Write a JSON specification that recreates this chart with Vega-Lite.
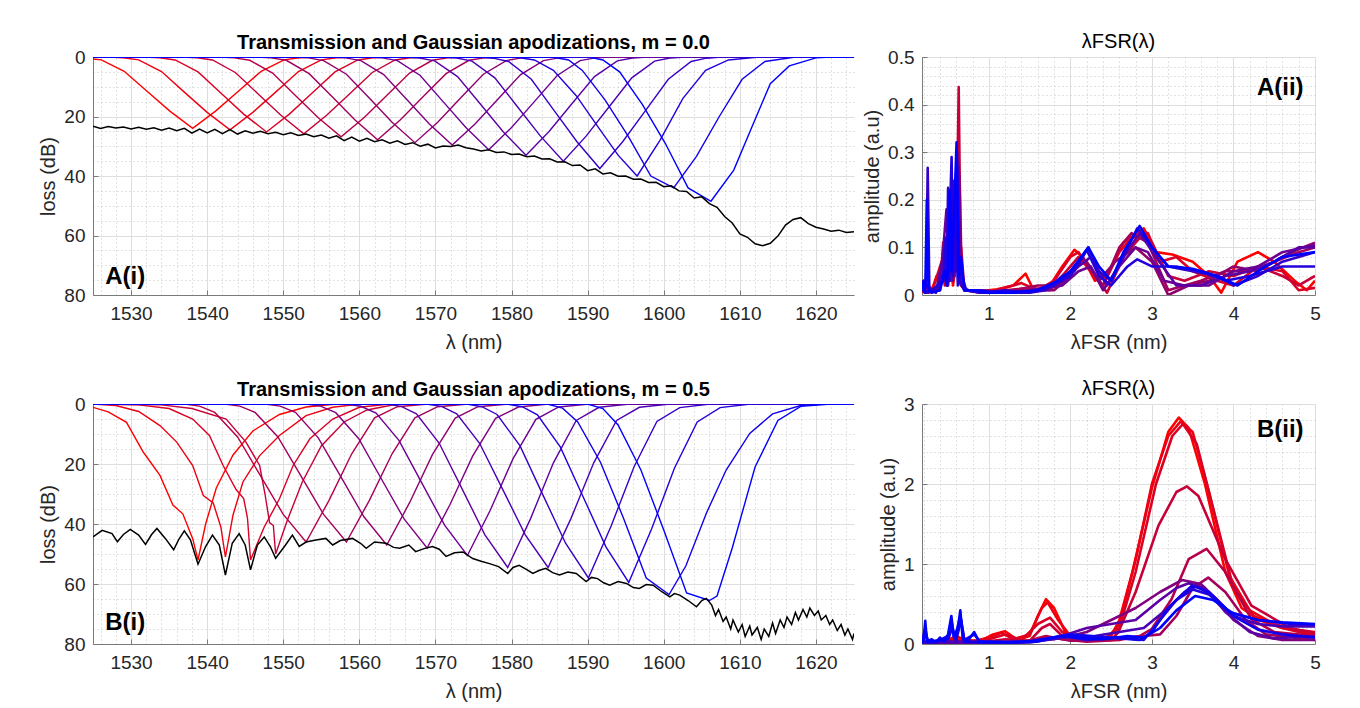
{
"$schema": "https://vega.github.io/schema/vega-lite/v6.json",
"background": "white",
"padding": {"left": 38, "top": 32, "right": 10, "bottom": 5},
"config": {
  "font": "Liberation Sans",
  "view": {"stroke": null},
  "axis": {"labelFont": "Liberation Sans", "labelFontSize": 19, "labelColor": "#262626", "titleFont": "Liberation Sans", "titleFontSize": 20, "titleFontWeight": "normal", "titleColor": "#262626", "domainColor": "#7a7a7a", "tickColor": "#7a7a7a", "labelFlush": false},
  "title": {"font": "Liberation Sans", "fontSize": 20, "fontWeight": "bold", "color": "#000000", "frame": "group"}
},
"datasets": {
"va": [
{"s":0,"x":1522.1,"y":0},{"s":0,"x":1526.1,"y":0.96},{"s":0,"x":1529.1,"y":4.8},{"s":0,"x":1532.1,"y":11.5},{"s":0,"x":1535.1,"y":18.2},{"s":0,"x":1538.1,"y":24},{"s":0,"x":1541.1,"y":18.2},{"s":0,"x":1544.1,"y":11.5},{"s":0,"x":1547.1,"y":4.8},{"s":0,"x":1550.1,"y":0.96},{"s":0,"x":1552.1,"y":0.25},{"s":0,"x":1554.1,"y":0},{"s":0,"x":1625,"y":0},
{"s":1,"x":1525,"y":0},{"s":1,"x":1527,"y":0},{"s":1,"x":1529,"y":0.25},{"s":1,"x":1531,"y":0.98},{"s":1,"x":1534,"y":4.9},{"s":1,"x":1537,"y":11.8},{"s":1,"x":1540,"y":18.6},{"s":1,"x":1543,"y":24.5},{"s":1,"x":1546,"y":18.6},{"s":1,"x":1549,"y":11.8},{"s":1,"x":1552,"y":4.9},{"s":1,"x":1555,"y":0.98},{"s":1,"x":1557,"y":0.25},{"s":1,"x":1559,"y":0},{"s":1,"x":1625,"y":0},
{"s":2,"x":1525,"y":0},{"s":2,"x":1531.8,"y":0},{"s":2,"x":1533.8,"y":0.25},{"s":2,"x":1535.8,"y":1},{"s":2,"x":1538.8,"y":5},{"s":2,"x":1541.8,"y":12.1},{"s":2,"x":1544.8,"y":19.2},{"s":2,"x":1547.8,"y":25.2},{"s":2,"x":1550.8,"y":19.2},{"s":2,"x":1553.8,"y":12.1},{"s":2,"x":1556.8,"y":5},{"s":2,"x":1559.8,"y":1},{"s":2,"x":1561.8,"y":0.25},{"s":2,"x":1563.8,"y":0},{"s":2,"x":1625,"y":0},
{"s":3,"x":1525,"y":0},{"s":3,"x":1536.7,"y":0},{"s":3,"x":1538.7,"y":0.25},{"s":3,"x":1540.7,"y":1},{"s":3,"x":1543.7,"y":5.2},{"s":3,"x":1546.7,"y":12.4},{"s":3,"x":1549.7,"y":19.6},{"s":3,"x":1552.7,"y":25.8},{"s":3,"x":1555.7,"y":19.6},{"s":3,"x":1558.7,"y":12.4},{"s":3,"x":1561.7,"y":5.2},{"s":3,"x":1564.7,"y":1},{"s":3,"x":1566.7,"y":0.25},{"s":3,"x":1568.7,"y":0},{"s":3,"x":1625,"y":0},
{"s":4,"x":1525,"y":0},{"s":4,"x":1541.6,"y":0},{"s":4,"x":1543.6,"y":0.3},{"s":4,"x":1545.6,"y":1.1},{"s":4,"x":1548.6,"y":5.4},{"s":4,"x":1551.6,"y":12.9},{"s":4,"x":1554.6,"y":20.4},{"s":4,"x":1557.6,"y":26.8},{"s":4,"x":1560.6,"y":20.4},{"s":4,"x":1563.6,"y":12.9},{"s":4,"x":1566.6,"y":5.4},{"s":4,"x":1569.6,"y":1.1},{"s":4,"x":1571.6,"y":0.3},{"s":4,"x":1573.6,"y":0},{"s":4,"x":1625,"y":0},
{"s":5,"x":1525,"y":0},{"s":5,"x":1546.4,"y":0},{"s":5,"x":1548.4,"y":0.3},{"s":5,"x":1550.4,"y":1.1},{"s":5,"x":1553.4,"y":5.6},{"s":5,"x":1556.4,"y":13.3},{"s":5,"x":1559.4,"y":21.1},{"s":5,"x":1562.4,"y":27.8},{"s":5,"x":1565.4,"y":21.1},{"s":5,"x":1568.4,"y":13.3},{"s":5,"x":1571.4,"y":5.6},{"s":5,"x":1574.4,"y":1.1},{"s":5,"x":1576.4,"y":0.3},{"s":5,"x":1578.4,"y":0},{"s":5,"x":1625,"y":0},
{"s":6,"x":1525,"y":0},{"s":6,"x":1551.3,"y":0},{"s":6,"x":1553.3,"y":0.3},{"s":6,"x":1555.3,"y":1.2},{"s":6,"x":1558.3,"y":5.8},{"s":6,"x":1561.3,"y":13.8},{"s":6,"x":1564.3,"y":21.9},{"s":6,"x":1567.3,"y":28.8},{"s":6,"x":1570.3,"y":21.9},{"s":6,"x":1573.3,"y":13.8},{"s":6,"x":1576.3,"y":5.8},{"s":6,"x":1579.3,"y":1.2},{"s":6,"x":1581.3,"y":0.3},{"s":6,"x":1583.3,"y":0},{"s":6,"x":1625,"y":0},
{"s":7,"x":1525,"y":0},{"s":7,"x":1556.2,"y":0},{"s":7,"x":1558.2,"y":0.3},{"s":7,"x":1560.2,"y":1.2},{"s":7,"x":1563.2,"y":5.9},{"s":7,"x":1566.2,"y":14.2},{"s":7,"x":1569.2,"y":22.5},{"s":7,"x":1572.2,"y":29.6},{"s":7,"x":1575.2,"y":22.5},{"s":7,"x":1578.2,"y":14.2},{"s":7,"x":1581.2,"y":5.9},{"s":7,"x":1584.2,"y":1.2},{"s":7,"x":1586.2,"y":0.3},{"s":7,"x":1588.2,"y":0},{"s":7,"x":1625,"y":0},
{"s":8,"x":1525,"y":0},{"s":8,"x":1561,"y":0},{"s":8,"x":1563,"y":0.3},{"s":8,"x":1565,"y":1.2},{"s":8,"x":1568,"y":6.2},{"s":8,"x":1571,"y":15},{"s":8,"x":1574,"y":23.7},{"s":8,"x":1577,"y":31.2},{"s":8,"x":1580,"y":23.7},{"s":8,"x":1583,"y":15},{"s":8,"x":1586,"y":6.2},{"s":8,"x":1589,"y":1.2},{"s":8,"x":1591,"y":0.3},{"s":8,"x":1593,"y":0},{"s":8,"x":1625,"y":0},
{"s":9,"x":1525,"y":0},{"s":9,"x":1565.9,"y":0},{"s":9,"x":1567.9,"y":0.35},{"s":9,"x":1569.9,"y":1.3},{"s":9,"x":1572.9,"y":6.6},{"s":9,"x":1575.9,"y":15.8},{"s":9,"x":1578.9,"y":25.1},{"s":9,"x":1581.9,"y":33},{"s":9,"x":1584.9,"y":25.1},{"s":9,"x":1587.9,"y":15.8},{"s":9,"x":1590.9,"y":6.6},{"s":9,"x":1593.9,"y":1.3},{"s":9,"x":1595.9,"y":0.35},{"s":9,"x":1597.9,"y":0},{"s":9,"x":1625,"y":0},
{"s":10,"x":1525,"y":0},{"s":10,"x":1570.8,"y":0},{"s":10,"x":1572.8,"y":0.35},{"s":10,"x":1574.8,"y":1.4},{"s":10,"x":1577.8,"y":7},{"s":10,"x":1580.8,"y":16.8},{"s":10,"x":1583.8,"y":26.6},{"s":10,"x":1586.8,"y":35},{"s":10,"x":1589.8,"y":26.6},{"s":10,"x":1592.8,"y":16.8},{"s":10,"x":1595.8,"y":7},{"s":10,"x":1598.8,"y":1.4},{"s":10,"x":1600.8,"y":0.35},{"s":10,"x":1602.8,"y":0},{"s":10,"x":1625,"y":0},
{"s":11,"x":1525,"y":0},{"s":11,"x":1575.6,"y":0},{"s":11,"x":1577.6,"y":0.4},{"s":11,"x":1579.6,"y":1.5},{"s":11,"x":1582.6,"y":7.5},{"s":11,"x":1585.6,"y":18},{"s":11,"x":1588.6,"y":28.5},{"s":11,"x":1591.6,"y":37.5},{"s":11,"x":1594.6,"y":28.5},{"s":11,"x":1597.6,"y":18},{"s":11,"x":1600.6,"y":7.5},{"s":11,"x":1603.6,"y":1.5},{"s":11,"x":1605.6,"y":0.4},{"s":11,"x":1607.6,"y":0},{"s":11,"x":1625,"y":0},
{"s":12,"x":1525,"y":0},{"s":12,"x":1580.5,"y":0},{"s":12,"x":1583,"y":1},{"s":12,"x":1585.5,"y":4.5},{"s":12,"x":1588.5,"y":13},{"s":12,"x":1591.5,"y":24},{"s":12,"x":1594,"y":33},{"s":12,"x":1596.5,"y":40},{"s":12,"x":1599.5,"y":28},{"s":12,"x":1602.5,"y":14},{"s":12,"x":1605.5,"y":4.5},{"s":12,"x":1608.5,"y":1},{"s":12,"x":1612.5,"y":0},{"s":12,"x":1625,"y":0},
{"s":13,"x":1525,"y":0},{"s":13,"x":1585.3,"y":0},{"s":13,"x":1587.5,"y":1},{"s":13,"x":1589.3,"y":4.5},{"s":13,"x":1592.3,"y":14.5},{"s":13,"x":1595.3,"y":26.5},{"s":13,"x":1598.3,"y":40},{"s":13,"x":1601.3,"y":44},{"s":13,"x":1604.3,"y":33.4},{"s":13,"x":1607.3,"y":20},{"s":13,"x":1610.3,"y":7.5},{"s":13,"x":1613.3,"y":1.5},{"s":13,"x":1617.3,"y":0},{"s":13,"x":1625,"y":0},
{"s":14,"x":1525,"y":0},{"s":14,"x":1590.2,"y":0},{"s":14,"x":1592,"y":1},{"s":14,"x":1594.2,"y":5},{"s":14,"x":1597.2,"y":16},{"s":14,"x":1600.2,"y":29},{"s":14,"x":1603.2,"y":44},{"s":14,"x":1606.2,"y":48.5},{"s":14,"x":1609.2,"y":38},{"s":14,"x":1611.5,"y":24},{"s":14,"x":1614,"y":9},{"s":14,"x":1616.5,"y":3},{"s":14,"x":1620,"y":0.3},{"s":14,"x":1622,"y":0},{"s":14,"x":1625,"y":0}
],
"ka": [
{"x":1525,"y":23.3},{"x":1526,"y":24.0},{"x":1527,"y":23.4},{"x":1528,"y":23.9},{"x":1529,"y":23.5},{"x":1530,"y":24.2},{"x":1531,"y":23.6},{"x":1532,"y":24.3},{"x":1533,"y":23.8},{"x":1534,"y":24.6},{"x":1535,"y":23.9},{"x":1536,"y":24.8},{"x":1537,"y":24.0},{"x":1538,"y":25.6},{"x":1539,"y":24.2},{"x":1540,"y":25.5},{"x":1541,"y":24.3},{"x":1542,"y":25.8},{"x":1543,"y":24.4},{"x":1544,"y":25.9},{"x":1545,"y":24.8},{"x":1546,"y":25.6},{"x":1547,"y":25.0},{"x":1548,"y":25.8},{"x":1549,"y":25.3},{"x":1550,"y":26.1},{"x":1551,"y":25.5},{"x":1552,"y":26.4},{"x":1553,"y":25.9},{"x":1554,"y":26.8},{"x":1555,"y":26.2},{"x":1556,"y":27.3},{"x":1557,"y":26.5},{"x":1558,"y":28.1},{"x":1559,"y":26.9},{"x":1560,"y":28.3},{"x":1561,"y":27.3},{"x":1562,"y":28.5},{"x":1563,"y":27.8},{"x":1564,"y":29.0},{"x":1565,"y":28.2},{"x":1566,"y":29.4},{"x":1567,"y":28.8},{"x":1568,"y":30.0},{"x":1569,"y":29.3},{"x":1570,"y":30.6},{"x":1571,"y":29.9},{"x":1572,"y":30.1},{"x":1573,"y":29.6},{"x":1574,"y":30.5},{"x":1575,"y":30.9},{"x":1576,"y":31.6},{"x":1577,"y":31.2},{"x":1578,"y":32.1},{"x":1579,"y":31.9},{"x":1580,"y":32.8},{"x":1581,"y":32.6},{"x":1582,"y":33.5},{"x":1583,"y":33.3},{"x":1584,"y":34.3},{"x":1585,"y":34.2},{"x":1586,"y":35.3},{"x":1587,"y":35.2},{"x":1588,"y":36.5},{"x":1589,"y":36.3},{"x":1590,"y":38.2},{"x":1591,"y":37.6},{"x":1592,"y":39.3},{"x":1593,"y":38.9},{"x":1594,"y":40.1},{"x":1595,"y":40.0},{"x":1596,"y":41.1},{"x":1597,"y":41.0},{"x":1598,"y":42.2},{"x":1599,"y":42.1},{"x":1600,"y":43.6},{"x":1601,"y":43.3},{"x":1602,"y":45.0},{"x":1603,"y":45.2},{"x":1604,"y":47.4},{"x":1605,"y":47.0},{"x":1606,"y":49.3},{"x":1607,"y":50.5},{"x":1608,"y":53.6},{"x":1609,"y":55.8},{"x":1610,"y":59.5},{"x":1611,"y":60.6},{"x":1612,"y":62.8},{"x":1613,"y":63.4},{"x":1614,"y":62.6},{"x":1615,"y":60.2},{"x":1616,"y":56.5},{"x":1617,"y":54.6},{"x":1618,"y":54.0},{"x":1619,"y":56.0},{"x":1620,"y":57.2},{"x":1621,"y":57.8},{"x":1622,"y":58.6},{"x":1623,"y":58.2},{"x":1624,"y":59.0},{"x":1625,"y":58.7}
],
"vb": [
{"s":0,"x":1525,"y":1.1},{"s":0,"x":1527,"y":2.6},{"s":0,"x":1529.4,"y":6.1},{"s":0,"x":1531.6,"y":16},{"s":0,"x":1533.8,"y":23.8},{"s":0,"x":1535.5,"y":33.7},{"s":0,"x":1536.8,"y":36.6},{"s":0,"x":1538.1,"y":44.9},{"s":0,"x":1538.8,"y":52},{"s":0,"x":1539.8,"y":40},{"s":0,"x":1541.2,"y":28},{"s":0,"x":1543.4,"y":17},{"s":0,"x":1546,"y":9},{"s":0,"x":1549.5,"y":3.5},{"s":0,"x":1553,"y":1},{"s":0,"x":1557,"y":0},{"s":0,"x":1625,"y":0},
{"s":1,"x":1525,"y":0},{"s":1,"x":1528,"y":0.5},{"s":1,"x":1531,"y":2.5},{"s":1,"x":1533.8,"y":7.2},{"s":1,"x":1536,"y":12.7},{"s":1,"x":1538.1,"y":20.5},{"s":1,"x":1539.5,"y":30.5},{"s":1,"x":1540.8,"y":33},{"s":1,"x":1541.8,"y":41},{"s":1,"x":1542.4,"y":51},{"s":1,"x":1543.4,"y":37},{"s":1,"x":1544.7,"y":26},{"s":1,"x":1546.9,"y":17.2},{"s":1,"x":1549.5,"y":10.5},{"s":1,"x":1553,"y":3.9},{"s":1,"x":1556.5,"y":1.1},{"s":1,"x":1560,"y":0},{"s":1,"x":1625,"y":0},
{"s":2,"x":1525,"y":0},{"s":2,"x":1531,"y":0.3},{"s":2,"x":1535,"y":1.5},{"s":2,"x":1538.1,"y":5},{"s":2,"x":1540.3,"y":10.5},{"s":2,"x":1542.1,"y":20.5},{"s":2,"x":1543.8,"y":28.5},{"s":2,"x":1544.8,"y":31.5},{"s":2,"x":1545.3,"y":38},{"s":2,"x":1545.7,"y":52},{"s":2,"x":1547.5,"y":41},{"s":2,"x":1549.5,"y":31.6},{"s":2,"x":1551.3,"y":20.5},{"s":2,"x":1553.5,"y":11.6},{"s":2,"x":1556.5,"y":5},{"s":2,"x":1560,"y":1.1},{"s":2,"x":1564,"y":0},{"s":2,"x":1625,"y":0},
{"s":3,"x":1525,"y":0},{"s":3,"x":1534,"y":0.3},{"s":3,"x":1538,"y":1.5},{"s":3,"x":1542.5,"y":5},{"s":3,"x":1545.1,"y":12.7},{"s":3,"x":1546.9,"y":20.5},{"s":3,"x":1547.6,"y":30},{"s":3,"x":1548.2,"y":39.5},{"s":3,"x":1548.7,"y":40.5},{"s":3,"x":1549.0,"y":50},{"s":3,"x":1550.5,"y":39},{"s":3,"x":1552.5,"y":26},{"s":3,"x":1555,"y":14},{"s":3,"x":1558,"y":6},{"s":3,"x":1561,"y":2},{"s":3,"x":1565,"y":0},{"s":3,"x":1625,"y":0},
{"s":4,"x":1525,"y":0},{"s":4,"x":1537,"y":0},{"s":4,"x":1539,"y":0.7},{"s":4,"x":1541,"y":2.8},{"s":4,"x":1544,"y":11},{"s":4,"x":1547,"y":23.9},{"s":4,"x":1550,"y":36.8},{"s":4,"x":1553,"y":46},{"s":4,"x":1556,"y":32.2},{"s":4,"x":1559,"y":16.6},{"s":4,"x":1562,"y":4.6},{"s":4,"x":1565,"y":0.9},{"s":4,"x":1569,"y":0},{"s":4,"x":1625,"y":0},
{"s":5,"x":1525,"y":0},{"s":5,"x":1542.3,"y":0},{"s":5,"x":1544.3,"y":0.7},{"s":5,"x":1546.3,"y":2.8},{"s":5,"x":1549.3,"y":11},{"s":5,"x":1552.3,"y":23.9},{"s":5,"x":1555.3,"y":36.8},{"s":5,"x":1558.3,"y":46},{"s":5,"x":1561.3,"y":32.2},{"s":5,"x":1564.3,"y":16.6},{"s":5,"x":1567.3,"y":4.6},{"s":5,"x":1570.3,"y":0.9},{"s":5,"x":1574.3,"y":0},{"s":5,"x":1625,"y":0},
{"s":6,"x":1525,"y":0},{"s":6,"x":1547.6,"y":0},{"s":6,"x":1549.6,"y":0.7},{"s":6,"x":1551.6,"y":2.8},{"s":6,"x":1554.6,"y":11.3},{"s":6,"x":1557.6,"y":24.4},{"s":6,"x":1560.6,"y":37.6},{"s":6,"x":1563.6,"y":47},{"s":6,"x":1566.6,"y":32.9},{"s":6,"x":1569.6,"y":16.9},{"s":6,"x":1572.6,"y":4.7},{"s":6,"x":1575.6,"y":0.9},{"s":6,"x":1579.6,"y":0},{"s":6,"x":1625,"y":0},
{"s":7,"x":1525,"y":0},{"s":7,"x":1552.9,"y":0},{"s":7,"x":1554.9,"y":0.7},{"s":7,"x":1556.9,"y":2.9},{"s":7,"x":1559.9,"y":11.5},{"s":7,"x":1562.9,"y":25},{"s":7,"x":1565.9,"y":38.4},{"s":7,"x":1568.9,"y":48},{"s":7,"x":1571.9,"y":33.6},{"s":7,"x":1574.9,"y":17.3},{"s":7,"x":1577.9,"y":4.8},{"s":7,"x":1580.9,"y":1},{"s":7,"x":1584.9,"y":0},{"s":7,"x":1625,"y":0},
{"s":8,"x":1525,"y":0},{"s":8,"x":1558.2,"y":0},{"s":8,"x":1560.2,"y":0.75},{"s":8,"x":1562.2,"y":3},{"s":8,"x":1565.2,"y":12.1},{"s":8,"x":1568.2,"y":26.3},{"s":8,"x":1571.2,"y":40.4},{"s":8,"x":1574.2,"y":50.5},{"s":8,"x":1577.2,"y":35.4},{"s":8,"x":1580.2,"y":18.2},{"s":8,"x":1583.2,"y":5.1},{"s":8,"x":1586.2,"y":1},{"s":8,"x":1590.2,"y":0},{"s":8,"x":1625,"y":0},
{"s":9,"x":1525,"y":0},{"s":9,"x":1563.5,"y":0},{"s":9,"x":1565.5,"y":0.8},{"s":9,"x":1567.5,"y":3.3},{"s":9,"x":1570.5,"y":13.1},{"s":9,"x":1573.5,"y":28.3},{"s":9,"x":1576.5,"y":43.6},{"s":9,"x":1579.5,"y":54.5},{"s":9,"x":1582.5,"y":38.2},{"s":9,"x":1585.5,"y":19.6},{"s":9,"x":1588.5,"y":5.5},{"s":9,"x":1591.5,"y":1.1},{"s":9,"x":1595.5,"y":0},{"s":9,"x":1625,"y":0},
{"s":10,"x":1525,"y":0},{"s":10,"x":1568.8,"y":0},{"s":10,"x":1570.8,"y":0.8},{"s":10,"x":1572.8,"y":3.3},{"s":10,"x":1575.8,"y":13.1},{"s":10,"x":1578.8,"y":28.3},{"s":10,"x":1581.8,"y":43.6},{"s":10,"x":1584.8,"y":54.5},{"s":10,"x":1587.8,"y":38.2},{"s":10,"x":1590.8,"y":19.6},{"s":10,"x":1593.8,"y":5.5},{"s":10,"x":1596.8,"y":1.1},{"s":10,"x":1600.8,"y":0},{"s":10,"x":1625,"y":0},
{"s":11,"x":1525,"y":0},{"s":11,"x":1574.1,"y":0},{"s":11,"x":1576.1,"y":0.9},{"s":11,"x":1578.1,"y":3.5},{"s":11,"x":1581.1,"y":13.9},{"s":11,"x":1584.1,"y":30.2},{"s":11,"x":1587.1,"y":46.4},{"s":11,"x":1590.1,"y":58},{"s":11,"x":1593.1,"y":40.6},{"s":11,"x":1596.1,"y":20.9},{"s":11,"x":1599.1,"y":5.8},{"s":11,"x":1602.1,"y":1.2},{"s":11,"x":1606.1,"y":0},{"s":11,"x":1625,"y":0},
{"s":12,"x":1525,"y":0},{"s":12,"x":1579.4,"y":0},{"s":12,"x":1581.4,"y":0.9},{"s":12,"x":1583.4,"y":3.6},{"s":12,"x":1586.4,"y":14.3},{"s":12,"x":1589.4,"y":30.9},{"s":12,"x":1592.4,"y":47.6},{"s":12,"x":1595.4,"y":59.5},{"s":12,"x":1598.4,"y":41.7},{"s":12,"x":1601.4,"y":21.4},{"s":12,"x":1604.4,"y":6},{"s":12,"x":1607.4,"y":1.2},{"s":12,"x":1611.4,"y":0},{"s":12,"x":1625,"y":0},
{"s":13,"x":1525,"y":0},{"s":13,"x":1584.7,"y":0},{"s":13,"x":1586.7,"y":1.4},{"s":13,"x":1588.7,"y":6},{"s":13,"x":1591.7,"y":19.5},{"s":13,"x":1594.7,"y":38},{"s":13,"x":1597.7,"y":58},{"s":13,"x":1600.7,"y":63.5},{"s":13,"x":1602.9,"y":54},{"s":13,"x":1605.6,"y":36.4},{"s":13,"x":1608.2,"y":22},{"s":13,"x":1611.3,"y":9.8},{"s":13,"x":1614.3,"y":3.3},{"s":13,"x":1618,"y":0.5},{"s":13,"x":1621,"y":0},{"s":13,"x":1625,"y":0},
{"s":14,"x":1525,"y":0},{"s":14,"x":1590,"y":0},{"s":14,"x":1592,"y":1.5},{"s":14,"x":1594,"y":7},{"s":14,"x":1597,"y":22},{"s":14,"x":1600,"y":42},{"s":14,"x":1603,"y":63},{"s":14,"x":1606,"y":65.5},{"s":14,"x":1607,"y":64},{"s":14,"x":1609,"y":48},{"s":14,"x":1612,"y":21},{"s":14,"x":1615,"y":5.5},{"s":14,"x":1618,"y":0.8},{"s":14,"x":1622,"y":0},{"s":14,"x":1625,"y":0}
],
"kb": [
{"x":1525,"y":44.3},{"x":1526.2,"y":42.1},{"x":1527.5,"y":43.2},{"x":1528.2,"y":45.9},{"x":1529,"y":43.5},{"x":1529.9,"y":41.8},{"x":1531,"y":43.7},{"x":1531.9,"y":46.8},{"x":1532.7,"y":43.5},{"x":1533.4,"y":41.5},{"x":1534.5,"y":44.8},{"x":1535.6,"y":48.6},{"x":1536.3,"y":45},{"x":1537,"y":42.3},{"x":1537.8,"y":45.3},{"x":1538.8,"y":53.4},{"x":1539.8,"y":47.5},{"x":1540.7,"y":43.7},{"x":1541.6,"y":47},{"x":1542.4,"y":57},{"x":1543.3,"y":46.4},{"x":1544.2,"y":43.2},{"x":1545,"y":47},{"x":1545.7,"y":55.3},{"x":1546.6,"y":47},{"x":1547.5,"y":44.3},{"x":1548.3,"y":47.5},{"x":1549,"y":51.4},{"x":1550.3,"y":47},{"x":1551.2,"y":43.7},{"x":1552.1,"y":47.5},{"x":1553,"y":46},{"x":1554.3,"y":45.3},{"x":1555.6,"y":44.8},{"x":1556.5,"y":47},{"x":1557.5,"y":45.5},{"x":1559.1,"y":44.8},{"x":1560.2,"y":46.5},{"x":1560.9,"y":48.1},{"x":1562,"y":46},{"x":1563.5,"y":46.4},{"x":1564.5,"y":47.8},{"x":1565.3,"y":48.1},{"x":1566.5,"y":47},{"x":1567.4,"y":49.2},{"x":1568.5,"y":48.2},{"x":1569.6,"y":47.5},{"x":1570.5,"y":48.4},{"x":1571.4,"y":50.8},{"x":1572.5,"y":49.6},{"x":1573.6,"y":49.3},{"x":1574.9,"y":51.5},{"x":1576,"y":52.4},{"x":1577.1,"y":53.2},{"x":1578.3,"y":54.2},{"x":1579.5,"y":56.5},{"x":1580.2,"y":54.5},{"x":1581,"y":53.8},{"x":1582,"y":55.2},{"x":1582.8,"y":56.5},{"x":1583.6,"y":55.5},{"x":1584.5,"y":54.8},{"x":1585.4,"y":56.2},{"x":1586.3,"y":57},{"x":1587.4,"y":56},{"x":1588.5,"y":56.5},{"x":1589.8,"y":59.2},{"x":1590.5,"y":57.8},{"x":1591.3,"y":58.2},{"x":1592.1,"y":59.6},{"x":1592.9,"y":60.4},{"x":1594,"y":59.2},{"x":1595.1,"y":59.8},{"x":1596,"y":61.2},{"x":1596.8,"y":61.5},{"x":1597.7,"y":60.2},{"x":1598.6,"y":60.4},{"x":1599.7,"y":62.5},{"x":1600.8,"y":64.3},{"x":1601.4,"y":63.2},{"x":1602.1,"y":63.7},{"x":1603.2,"y":65.5},{"x":1604.3,"y":67.6},{"x":1605,"y":65.5},{"x":1605.6,"y":64.8},
{"x":1606.3,"y":67},{"x":1606.8,"y":70.5},{"x":1607.2,"y":68.5},{"x":1607.8,"y":72.5},{"x":1608.2,"y":71},{"x":1608.8,"y":75},{"x":1609.1,"y":72},{"x":1609.8,"y":76},{"x":1610.3,"y":73.5},{"x":1610.7,"y":77.5},{"x":1611.3,"y":74},{"x":1611.6,"y":77},{"x":1612.3,"y":74.5},{"x":1612.8,"y":78.5},{"x":1613.2,"y":75},{"x":1613.8,"y":77.5},{"x":1614.3,"y":73},{"x":1614.7,"y":76.5},{"x":1615.3,"y":72},{"x":1615.8,"y":74.5},{"x":1616.2,"y":71},{"x":1616.8,"y":73.5},{"x":1617.3,"y":69.5},{"x":1617.7,"y":72},{"x":1618.3,"y":68.5},{"x":1618.8,"y":71},{"x":1619.2,"y":68},{"x":1619.8,"y":70.5},{"x":1620.3,"y":69},{"x":1620.7,"y":72},{"x":1621.3,"y":70.5},{"x":1621.8,"y":73.5},{"x":1622.2,"y":72},{"x":1622.8,"y":75.5},{"x":1623.3,"y":73.5},{"x":1623.8,"y":77},{"x":1624.2,"y":75},{"x":1624.8,"y":78.5},{"x":1625,"y":76.5}
],
"ra": [
{"s":0,"x":0.18,"y":0.01},{"s":0,"x":0.2,"y":0.03},{"s":0,"x":0.23,"y":0.005},{"s":0,"x":0.3,"y":0.01},{"s":0,"x":0.36,"y":0.04},{"s":0,"x":0.4,"y":0.01},{"s":0,"x":0.44,"y":0.11},{"s":0,"x":0.47,"y":0.03},{"s":0,"x":0.52,"y":0.09},{"s":0,"x":0.56,"y":0.02},{"s":0,"x":0.6,"y":0.07},{"s":0,"x":0.66,"y":0.02},{"s":0,"x":0.72,"y":0.01},{"s":0,"x":0.9,"y":0.008},{"s":0,"x":1.1,"y":0.012},{"s":0,"x":1.3,"y":0.02},{"s":0,"x":1.45,"y":0.045},{"s":0,"x":1.55,"y":0.01},{"s":0,"x":1.75,"y":0.02},{"s":0,"x":1.9,"y":0.06},{"s":0,"x":2.05,"y":0.095},{"s":0,"x":2.15,"y":0.08},{"s":0,"x":2.3,"y":0.03},{"s":0,"x":2.45,"y":0.04},{"s":0,"x":2.65,"y":0.11},{"s":0,"x":2.9,"y":0.14},{"s":0,"x":3.05,"y":0.09},{"s":0,"x":3.25,"y":0.085},{"s":0,"x":3.5,"y":0.07},{"s":0,"x":3.7,"y":0.04},{"s":0,"x":3.85,"y":0.005},{"s":0,"x":4.05,"y":0.07},{"s":0,"x":4.3,"y":0.09},{"s":0,"x":4.5,"y":0.07},{"s":0,"x":4.75,"y":0.03},{"s":0,"x":4.9,"y":0.01},{"s":0,"x":5,"y":0.03},
{"s":2,"x":0.18,"y":0.005},{"s":2,"x":0.25,"y":0.02},{"s":2,"x":0.3,"y":0.005},{"s":2,"x":0.42,"y":0.07},{"s":2,"x":0.46,"y":0.02},{"s":2,"x":0.5,"y":0.12},{"s":2,"x":0.54,"y":0.03},{"s":2,"x":0.58,"y":0.15},{"s":2,"x":0.62,"y":0.05},{"s":2,"x":0.66,"y":0.1},{"s":2,"x":0.7,"y":0.01},{"s":2,"x":0.8,"y":0.01},{"s":2,"x":1.0,"y":0.005},{"s":2,"x":1.2,"y":0.015},{"s":2,"x":1.4,"y":0.025},{"s":2,"x":1.6,"y":0.01},{"s":2,"x":1.8,"y":0.03},{"s":2,"x":2.0,"y":0.08},{"s":2,"x":2.1,"y":0.09},{"s":2,"x":2.25,"y":0.05},{"s":2,"x":2.4,"y":0.02},{"s":2,"x":2.6,"y":0.09},{"s":2,"x":2.75,"y":0.12},{"s":2,"x":2.95,"y":0.13},{"s":2,"x":3.1,"y":0.07},{"s":2,"x":3.3,"y":0.08},{"s":2,"x":3.5,"y":0.05},{"s":2,"x":3.8,"y":0.03},{"s":2,"x":4.0,"y":0.02},{"s":2,"x":4.3,"y":0.06},{"s":2,"x":4.6,"y":0.05},{"s":2,"x":4.8,"y":0.01},{"s":2,"x":5,"y":0.015},
{"s":3,"x":0.18,"y":0.01},{"s":3,"x":0.24,"y":0.005},{"s":3,"x":0.35,"y":0.01},{"s":3,"x":0.45,"y":0.05},{"s":3,"x":0.5,"y":0.02},{"s":3,"x":0.55,"y":0.1},{"s":3,"x":0.58,"y":0.04},{"s":3,"x":0.61,"y":0.2},{"s":3,"x":0.63,"y":0.437},{"s":3,"x":0.655,"y":0.05},{"s":3,"x":0.7,"y":0.01},{"s":3,"x":0.9,"y":0.005},{"s":3,"x":1.2,"y":0.01},{"s":3,"x":1.5,"y":0.015},{"s":3,"x":1.75,"y":0.01},{"s":3,"x":1.95,"y":0.05},{"s":3,"x":2.1,"y":0.08},{"s":3,"x":2.3,"y":0.04},{"s":3,"x":2.45,"y":0.005},{"s":3,"x":2.65,"y":0.08},{"s":3,"x":2.85,"y":0.12},{"s":3,"x":3.0,"y":0.11},{"s":3,"x":3.2,"y":0.04},{"s":3,"x":3.4,"y":0.03},{"s":3,"x":3.7,"y":0.05},{"s":3,"x":4.0,"y":0.04},{"s":3,"x":4.3,"y":0.06},{"s":3,"x":4.6,"y":0.04},{"s":3,"x":4.8,"y":0.02},{"s":3,"x":5,"y":0.04},
{"s":5,"x":0.18,"y":0.005},{"s":5,"x":0.22,"y":0.02},{"s":5,"x":0.3,"y":0.005},{"s":5,"x":0.45,"y":0.03},{"s":5,"x":0.5,"y":0.15},{"s":5,"x":0.53,"y":0.03},{"s":5,"x":0.57,"y":0.22},{"s":5,"x":0.6,"y":0.05},{"s":5,"x":0.64,"y":0.25},{"s":5,"x":0.67,"y":0.02},{"s":5,"x":0.75,"y":0.01},{"s":5,"x":1.0,"y":0.005},{"s":5,"x":1.3,"y":0.01},{"s":5,"x":1.6,"y":0.02},{"s":5,"x":1.85,"y":0.02},{"s":5,"x":2.05,"y":0.06},{"s":5,"x":2.2,"y":0.07},{"s":5,"x":2.4,"y":0.02},{"s":5,"x":2.6,"y":0.1},{"s":5,"x":2.75,"y":0.13},{"s":5,"x":2.95,"y":0.11},{"s":5,"x":3.2,"y":0.01},{"s":5,"x":3.4,"y":0.02},{"s":5,"x":3.6,"y":0.03},{"s":5,"x":3.9,"y":0.05},{"s":5,"x":4.2,"y":0.05},{"s":5,"x":4.5,"y":0.07},{"s":5,"x":4.8,"y":0.09},{"s":5,"x":5,"y":0.1},
{"s":6,"x":0.18,"y":0.01},{"s":6,"x":0.26,"y":0.005},{"s":6,"x":0.4,"y":0.02},{"s":6,"x":0.47,"y":0.12},{"s":6,"x":0.5,"y":0.03},{"s":6,"x":0.55,"y":0.2},{"s":6,"x":0.58,"y":0.04},{"s":6,"x":0.62,"y":0.3},{"s":6,"x":0.65,"y":0.04},{"s":6,"x":0.7,"y":0.01},{"s":6,"x":0.9,"y":0.01},{"s":6,"x":1.2,"y":0.005},{"s":6,"x":1.5,"y":0.01},{"s":6,"x":1.8,"y":0.01},{"s":6,"x":2.0,"y":0.04},{"s":6,"x":2.15,"y":0.08},{"s":6,"x":2.35,"y":0.03},{"s":6,"x":2.55,"y":0.07},{"s":6,"x":2.8,"y":0.1},{"s":6,"x":3.0,"y":0.07},{"s":6,"x":3.2,"y":0.0},{"s":6,"x":3.45,"y":0.02},{"s":6,"x":3.7,"y":0.03},{"s":6,"x":4.0,"y":0.06},{"s":6,"x":4.3,"y":0.05},{"s":6,"x":4.6,"y":0.08},{"s":6,"x":4.85,"y":0.1},{"s":6,"x":5,"y":0.11},
{"s":8,"x":0.18,"y":0.02},{"s":8,"x":0.23,"y":0.005},{"s":8,"x":0.4,"y":0.01},{"s":8,"x":0.48,"y":0.18},{"s":8,"x":0.51,"y":0.04},{"s":8,"x":0.56,"y":0.24},{"s":8,"x":0.59,"y":0.05},{"s":8,"x":0.63,"y":0.27},{"s":8,"x":0.66,"y":0.03},{"s":8,"x":0.72,"y":0.01},{"s":8,"x":0.9,"y":0.005},{"s":8,"x":1.3,"y":0.005},{"s":8,"x":1.6,"y":0.01},{"s":8,"x":1.9,"y":0.02},{"s":8,"x":2.1,"y":0.05},{"s":8,"x":2.25,"y":0.06},{"s":8,"x":2.4,"y":0.01},{"s":8,"x":2.6,"y":0.06},{"s":8,"x":2.8,"y":0.1},{"s":8,"x":2.95,"y":0.09},{"s":8,"x":3.15,"y":0.03},{"s":8,"x":3.4,"y":0.02},{"s":8,"x":3.7,"y":0.02},{"s":8,"x":4.0,"y":0.05},{"s":8,"x":4.3,"y":0.06},{"s":8,"x":4.6,"y":0.09},{"s":8,"x":5,"y":0.105},
{"s":9,"x":0.18,"y":0.01},{"s":9,"x":0.25,"y":0.02},{"s":9,"x":0.35,"y":0.005},{"s":9,"x":0.46,"y":0.1},{"s":9,"x":0.49,"y":0.02},{"s":9,"x":0.53,"y":0.2},{"s":9,"x":0.56,"y":0.03},{"s":9,"x":0.6,"y":0.26},{"s":9,"x":0.63,"y":0.03},{"s":9,"x":0.7,"y":0.01},{"s":9,"x":1.0,"y":0.005},{"s":9,"x":1.4,"y":0.008},{"s":9,"x":1.7,"y":0.015},{"s":9,"x":1.9,"y":0.03},{"s":9,"x":2.1,"y":0.06},{"s":9,"x":2.25,"y":0.08},{"s":9,"x":2.45,"y":0.02},{"s":9,"x":2.65,"y":0.08},{"s":9,"x":2.85,"y":0.13},{"s":9,"x":3.05,"y":0.08},{"s":9,"x":3.3,"y":0.02},{"s":9,"x":3.6,"y":0.02},{"s":9,"x":3.9,"y":0.04},{"s":9,"x":4.2,"y":0.05},{"s":9,"x":4.5,"y":0.07},{"s":9,"x":4.8,"y":0.1},{"s":9,"x":5,"y":0.1},
{"s":11,"x":0.18,"y":0.01},{"s":11,"x":0.23,"y":0.02},{"s":11,"x":0.25,"y":0.267},{"s":11,"x":0.27,"y":0.01},{"s":11,"x":0.35,"y":0.005},{"s":11,"x":0.45,"y":0.05},{"s":11,"x":0.48,"y":0.02},{"s":11,"x":0.5,"y":0.225},{"s":11,"x":0.52,"y":0.03},{"s":11,"x":0.55,"y":0.2},{"s":11,"x":0.58,"y":0.05},{"s":11,"x":0.61,"y":0.28},{"s":11,"x":0.64,"y":0.03},{"s":11,"x":0.7,"y":0.01},{"s":11,"x":0.9,"y":0.01},{"s":11,"x":1.2,"y":0.005},{"s":11,"x":1.5,"y":0.005},{"s":11,"x":1.7,"y":0.01},{"s":11,"x":1.9,"y":0.04},{"s":11,"x":2.05,"y":0.05},{"s":11,"x":2.22,"y":0.1},{"s":11,"x":2.35,"y":0.05},{"s":11,"x":2.5,"y":0.03},{"s":11,"x":2.65,"y":0.08},{"s":11,"x":2.82,"y":0.14},{"s":11,"x":3.0,"y":0.1},{"s":11,"x":3.2,"y":0.06},{"s":11,"x":3.5,"y":0.05},{"s":11,"x":3.8,"y":0.04},{"s":11,"x":4.0,"y":0.02},{"s":11,"x":4.3,"y":0.04},{"s":11,"x":4.6,"y":0.07},{"s":11,"x":5,"y":0.09},
{"s":12,"x":0.18,"y":0.02},{"s":12,"x":0.21,"y":0.005},{"s":12,"x":0.3,"y":0.01},{"s":12,"x":0.44,"y":0.03},{"s":12,"x":0.47,"y":0.12},{"s":12,"x":0.5,"y":0.04},{"s":12,"x":0.543,"y":0.29},{"s":12,"x":0.56,"y":0.04},{"s":12,"x":0.59,"y":0.18},{"s":12,"x":0.62,"y":0.02},{"s":12,"x":0.66,"y":0.05},{"s":12,"x":0.72,"y":0.01},{"s":12,"x":0.9,"y":0.005},{"s":12,"x":1.2,"y":0.01},{"s":12,"x":1.5,"y":0.005},{"s":12,"x":1.8,"y":0.02},{"s":12,"x":2.0,"y":0.04},{"s":12,"x":2.2,"y":0.095},{"s":12,"x":2.35,"y":0.04},{"s":12,"x":2.5,"y":0.02},{"s":12,"x":2.7,"y":0.06},{"s":12,"x":2.82,"y":0.075},{"s":12,"x":3.0,"y":0.06},{"s":12,"x":3.3,"y":0.06},{"s":12,"x":3.6,"y":0.05},{"s":12,"x":3.9,"y":0.03},{"s":12,"x":4.2,"y":0.04},{"s":12,"x":4.6,"y":0.06},{"s":12,"x":5,"y":0.06},
{"s":14,"x":0.18,"y":0.01},{"s":14,"x":0.2,"y":0.03},{"s":14,"x":0.22,"y":0.005},{"s":14,"x":0.24,"y":0.2},{"s":14,"x":0.26,"y":0.01},{"s":14,"x":0.3,"y":0.005},{"s":14,"x":0.4,"y":0.01},{"s":14,"x":0.46,"y":0.05},{"s":14,"x":0.49,"y":0.02},{"s":14,"x":0.52,"y":0.22},{"s":14,"x":0.54,"y":0.05},{"s":14,"x":0.57,"y":0.15},{"s":14,"x":0.604,"y":0.321},{"s":14,"x":0.63,"y":0.04},{"s":14,"x":0.66,"y":0.08},{"s":14,"x":0.7,"y":0.01},{"s":14,"x":0.8,"y":0.01},{"s":14,"x":1.0,"y":0.005},{"s":14,"x":1.3,"y":0.005},{"s":14,"x":1.6,"y":0.01},{"s":14,"x":1.85,"y":0.03},{"s":14,"x":2.0,"y":0.05},{"s":14,"x":2.22,"y":0.1},{"s":14,"x":2.35,"y":0.06},{"s":14,"x":2.5,"y":0.03},{"s":14,"x":2.65,"y":0.09},{"s":14,"x":2.85,"y":0.145},{"s":14,"x":3.0,"y":0.1},{"s":14,"x":3.2,"y":0.06},{"s":14,"x":3.5,"y":0.055},{"s":14,"x":3.8,"y":0.04},{"s":14,"x":4.05,"y":0.02},{"s":14,"x":4.3,"y":0.05},{"s":14,"x":4.6,"y":0.08},{"s":14,"x":5,"y":0.09}
],
"rb": [
{"s":0,"x":0.18,"y":0.02},{"s":0,"x":0.3,"y":0.03},{"s":0,"x":0.5,"y":0.05},{"s":0,"x":0.6,"y":0.1},{"s":0,"x":0.7,"y":0.05},{"s":0,"x":0.9,"y":0.04},{"s":0,"x":1.05,"y":0.12},{"s":0,"x":1.2,"y":0.16},{"s":0,"x":1.35,"y":0.05},{"s":0,"x":1.5,"y":0.1},{"s":0,"x":1.6,"y":0.35},{"s":0,"x":1.7,"y":0.56},{"s":0,"x":1.8,"y":0.45},{"s":0,"x":1.95,"y":0.12},{"s":0,"x":2.1,"y":0.1},{"s":0,"x":2.3,"y":0.06},{"s":0,"x":2.5,"y":0.1},{"s":0,"x":2.6,"y":0.3},{"s":0,"x":2.76,"y":0.9},{"s":0,"x":3.0,"y":1.95},{"s":0,"x":3.2,"y":2.65},{"s":0,"x":3.33,"y":2.83},{"s":0,"x":3.45,"y":2.7},{"s":0,"x":3.65,"y":2.0},{"s":0,"x":3.9,"y":0.9},{"s":0,"x":4.1,"y":0.45},{"s":0,"x":4.31,"y":0.3},{"s":0,"x":4.6,"y":0.2},{"s":0,"x":5,"y":0.15},
{"s":1,"x":0.18,"y":0.01},{"s":1,"x":0.4,"y":0.04},{"s":1,"x":0.6,"y":0.06},{"s":1,"x":0.8,"y":0.03},{"s":1,"x":1.0,"y":0.08},{"s":1,"x":1.15,"y":0.14},{"s":1,"x":1.3,"y":0.06},{"s":1,"x":1.5,"y":0.12},{"s":1,"x":1.65,"y":0.45},{"s":1,"x":1.72,"y":0.52},{"s":1,"x":1.85,"y":0.3},{"s":1,"x":2.0,"y":0.1},{"s":1,"x":2.2,"y":0.08},{"s":1,"x":2.45,"y":0.07},{"s":1,"x":2.6,"y":0.25},{"s":1,"x":2.8,"y":1.05},{"s":1,"x":3.0,"y":2.0},{"s":1,"x":3.2,"y":2.6},{"s":1,"x":3.35,"y":2.78},{"s":1,"x":3.5,"y":2.65},{"s":1,"x":3.7,"y":1.9},{"s":1,"x":3.95,"y":0.85},{"s":1,"x":4.2,"y":0.42},{"s":1,"x":4.5,"y":0.25},{"s":1,"x":5,"y":0.12},
{"s":2,"x":0.18,"y":0.03},{"s":2,"x":0.5,"y":0.04},{"s":2,"x":0.8,"y":0.02},{"s":2,"x":1.0,"y":0.06},{"s":2,"x":1.2,"y":0.12},{"s":2,"x":1.4,"y":0.05},{"s":2,"x":1.6,"y":0.25},{"s":2,"x":1.75,"y":0.33},{"s":2,"x":1.9,"y":0.15},{"s":2,"x":2.1,"y":0.05},{"s":2,"x":2.4,"y":0.05},{"s":2,"x":2.6,"y":0.2},{"s":2,"x":2.8,"y":0.9},{"s":2,"x":3.05,"y":2.0},{"s":2,"x":3.25,"y":2.6},{"s":2,"x":3.38,"y":2.75},{"s":2,"x":3.55,"y":2.5},{"s":2,"x":3.75,"y":1.7},{"s":2,"x":4.0,"y":0.7},{"s":2,"x":4.25,"y":0.35},{"s":2,"x":4.6,"y":0.2},{"s":2,"x":5,"y":0.1},
{"s":3,"x":0.18,"y":0.02},{"s":3,"x":0.5,"y":0.03},{"s":3,"x":0.9,"y":0.02},{"s":3,"x":1.2,"y":0.06},{"s":3,"x":1.5,"y":0.04},{"s":3,"x":1.65,"y":0.2},{"s":3,"x":1.75,"y":0.25},{"s":3,"x":1.9,"y":0.1},{"s":3,"x":2.2,"y":0.04},{"s":3,"x":2.5,"y":0.05},{"s":3,"x":2.59,"y":0.15},{"s":3,"x":2.8,"y":0.65},{"s":3,"x":3.08,"y":1.48},{"s":3,"x":3.3,"y":1.9},{"s":3,"x":3.43,"y":1.97},{"s":3,"x":3.57,"y":1.85},{"s":3,"x":3.9,"y":1.06},{"s":3,"x":4.22,"y":0.48},{"s":3,"x":4.71,"y":0.19},{"s":3,"x":5,"y":0.14},
{"s":4,"x":0.18,"y":0.01},{"s":4,"x":0.6,"y":0.02},{"s":4,"x":1.0,"y":0.03},{"s":4,"x":1.4,"y":0.02},{"s":4,"x":1.7,"y":0.1},{"s":4,"x":1.9,"y":0.06},{"s":4,"x":2.2,"y":0.03},{"s":4,"x":2.6,"y":0.05},{"s":4,"x":2.85,"y":0.1},{"s":4,"x":3.0,"y":0.19},{"s":4,"x":3.24,"y":0.56},{"s":4,"x":3.45,"y":1.06},{"s":4,"x":3.67,"y":1.19},{"s":4,"x":3.9,"y":0.9},{"s":4,"x":4.22,"y":0.31},{"s":4,"x":4.5,"y":0.15},{"s":4,"x":5,"y":0.1},
{"s":5,"x":0.18,"y":0.01},{"s":5,"x":0.7,"y":0.02},{"s":5,"x":1.2,"y":0.02},{"s":5,"x":1.6,"y":0.05},{"s":5,"x":1.8,"y":0.08},{"s":5,"x":2.0,"y":0.04},{"s":5,"x":2.3,"y":0.04},{"s":5,"x":2.7,"y":0.08},{"s":5,"x":2.9,"y":0.1},{"s":5,"x":3.1,"y":0.12},{"s":5,"x":3.3,"y":0.35},{"s":5,"x":3.5,"y":0.7},{"s":5,"x":3.69,"y":0.83},{"s":5,"x":3.9,"y":0.65},{"s":5,"x":4.15,"y":0.3},{"s":5,"x":4.4,"y":0.12},{"s":5,"x":5,"y":0.05},
{"s":7,"x":0.18,"y":0.01},{"s":7,"x":0.6,"y":0.01},{"s":7,"x":1.0,"y":0.02},{"s":7,"x":1.4,"y":0.03},{"s":7,"x":1.8,"y":0.06},{"s":7,"x":2.0,"y":0.1},{"s":7,"x":2.2,"y":0.15},{"s":7,"x":2.5,"y":0.3},{"s":7,"x":2.8,"y":0.45},{"s":7,"x":3.1,"y":0.65},{"s":7,"x":3.37,"y":0.8},{"s":7,"x":3.6,"y":0.75},{"s":7,"x":3.8,"y":0.55},{"s":7,"x":4.0,"y":0.3},{"s":7,"x":4.3,"y":0.1},{"s":7,"x":4.6,"y":0.05},{"s":7,"x":5,"y":0.05},
{"s":9,"x":0.18,"y":0.02},{"s":9,"x":0.5,"y":0.02},{"s":9,"x":1.0,"y":0.01},{"s":9,"x":1.5,"y":0.03},{"s":9,"x":1.9,"y":0.1},{"s":9,"x":2.2,"y":0.2},{"s":9,"x":2.5,"y":0.25},{"s":9,"x":2.8,"y":0.3},{"s":9,"x":3.1,"y":0.55},{"s":9,"x":3.3,"y":0.7},{"s":9,"x":3.45,"y":0.76},{"s":9,"x":3.65,"y":0.7},{"s":9,"x":3.9,"y":0.4},{"s":9,"x":4.2,"y":0.15},{"s":9,"x":4.5,"y":0.07},{"s":9,"x":5,"y":0.1},
{"s":10,"x":0.18,"y":0.01},{"s":10,"x":0.5,"y":0.03},{"s":10,"x":1.0,"y":0.02},{"s":10,"x":1.5,"y":0.02},{"s":10,"x":1.9,"y":0.08},{"s":10,"x":2.3,"y":0.1},{"s":10,"x":2.6,"y":0.15},{"s":10,"x":2.9,"y":0.2},{"s":10,"x":3.2,"y":0.45},{"s":10,"x":3.4,"y":0.65},{"s":10,"x":3.55,"y":0.72},{"s":10,"x":3.75,"y":0.6},{"s":10,"x":4.0,"y":0.35},{"s":10,"x":4.3,"y":0.25},{"s":10,"x":4.6,"y":0.22},{"s":10,"x":5,"y":0.22},
{"s":12,"x":0.18,"y":0.03},{"s":12,"x":0.22,"y":0.2},{"s":12,"x":0.25,"y":0.02},{"s":12,"x":0.4,"y":0.05},{"s":12,"x":0.5,"y":0.1},{"s":12,"x":0.54,"y":0.3},{"s":12,"x":0.58,"y":0.06},{"s":12,"x":0.65,"y":0.35},{"s":12,"x":0.7,"y":0.05},{"s":12,"x":0.82,"y":0.12},{"s":12,"x":0.9,"y":0.02},{"s":12,"x":1.2,"y":0.02},{"s":12,"x":1.6,"y":0.03},{"s":12,"x":1.9,"y":0.1},{"s":12,"x":2.2,"y":0.05},{"s":12,"x":2.6,"y":0.08},{"s":12,"x":2.9,"y":0.05},{"s":12,"x":3.1,"y":0.3},{"s":12,"x":3.3,"y":0.55},{"s":12,"x":3.5,"y":0.68},{"s":12,"x":3.7,"y":0.62},{"s":12,"x":3.95,"y":0.4},{"s":12,"x":4.3,"y":0.3},{"s":12,"x":4.7,"y":0.25},{"s":12,"x":5,"y":0.24},
{"s":13,"x":0.18,"y":0.01},{"s":13,"x":0.23,"y":0.12},{"s":13,"x":0.26,"y":0.02},{"s":13,"x":0.5,"y":0.06},{"s":13,"x":0.55,"y":0.2},{"s":13,"x":0.6,"y":0.05},{"s":13,"x":0.66,"y":0.3},{"s":13,"x":0.7,"y":0.03},{"s":13,"x":1.0,"y":0.02},{"s":13,"x":1.5,"y":0.03},{"s":13,"x":2.0,"y":0.12},{"s":13,"x":2.5,"y":0.08},{"s":13,"x":2.85,"y":0.05},{"s":13,"x":3.0,"y":0.15},{"s":13,"x":3.2,"y":0.45},{"s":13,"x":3.49,"y":0.73},{"s":13,"x":3.7,"y":0.65},{"s":13,"x":4.0,"y":0.35},{"s":13,"x":4.3,"y":0.18},{"s":13,"x":4.6,"y":0.12},{"s":13,"x":5,"y":0.08},
{"s":14,"x":0.18,"y":0.02},{"s":14,"x":0.2,"y":0.05},{"s":14,"x":0.22,"y":0.29},{"s":14,"x":0.24,"y":0.03},{"s":14,"x":0.3,"y":0.06},{"s":14,"x":0.35,"y":0.02},{"s":14,"x":0.4,"y":0.08},{"s":14,"x":0.45,"y":0.03},{"s":14,"x":0.5,"y":0.12},{"s":14,"x":0.54,"y":0.35},{"s":14,"x":0.57,"y":0.08},{"s":14,"x":0.62,"y":0.2},{"s":14,"x":0.65,"y":0.42},{"s":14,"x":0.68,"y":0.06},{"s":14,"x":0.75,"y":0.05},{"s":14,"x":0.82,"y":0.15},{"s":14,"x":0.88,"y":0.03},{"s":14,"x":1.0,"y":0.03},{"s":14,"x":1.3,"y":0.02},{"s":14,"x":1.6,"y":0.04},{"s":14,"x":1.9,"y":0.1},{"s":14,"x":2.1,"y":0.08},{"s":14,"x":2.4,"y":0.06},{"s":14,"x":2.7,"y":0.1},{"s":14,"x":2.9,"y":0.08},{"s":14,"x":3.1,"y":0.2},{"s":14,"x":3.3,"y":0.42},{"s":14,"x":3.53,"y":0.6},{"s":14,"x":3.75,"y":0.55},{"s":14,"x":4.0,"y":0.38},{"s":14,"x":4.3,"y":0.3},{"s":14,"x":4.6,"y":0.27},{"s":14,"x":5,"y":0.25}
]
},
"columns": 2,
"spacing": {"row": 109, "column": 68},
"bounds": "flush",
"concat": [
{
  "width": 761, "height": 238,
  "title": {"text": "Transmission and Gaussian apodizations, m = 0.0", "offset": -5},
  "resolve": {"axis": {"x": "independent", "y": "independent"}},
  "layer": [
    {"data": {"name": "va"}, "mark": {"type": "line", "strokeWidth": 1.4, "clip": true},
     "encoding": {
       "x": {"field": "x", "type": "quantitative", "scale": {"domain": [1525, 1625], "nice": false, "zero": false},
             "axis": {"orient": "bottom", "title": null, "values": [1526,1528,1532,1534,1536,1538,1542,1544,1546,1548,1552,1554,1556,1558,1562,1564,1566,1568,1572,1574,1576,1578,1582,1584,1586,1588,1592,1594,1596,1598,1602,1604,1606,1608,1612,1614,1616,1618,1622,1624], "labels": false, "ticks": false, "domain": false, "grid": true, "gridColor": "#c4c4c4", "gridDash": [1, 3]}},
       "y": {"field": "y", "type": "quantitative", "scale": {"domain": [0, 80], "reverse": true, "nice": false, "zero": false},
             "axis": {"orient": "left", "title": null, "values": [5,10,15,25,30,35,45,50,55,65,70,75], "labels": false, "ticks": false, "domain": false, "grid": true, "gridColor": "#c4c4c4", "gridDash": [1, 3]}},
       "color": {"field": "s", "type": "ordinal", "scale": {"domain": [0,1,2,3,4,5,6,7,8,9,10,11,12,13,14], "range": ["#ff0000","#ed0012","#db0024","#c80037","#b60049","#a4005b","#92006d","#800080","#6d0092","#5b00a4","#4900b6","#3700c8","#2400db","#1200ed","#0000ff"]}, "legend": null}
     }},
    {"data": {"name": "ka"}, "mark": {"type": "line", "strokeWidth": 1.5, "color": "#000000", "clip": true},
     "encoding": {
       "x": {"field": "x", "type": "quantitative", "axis": {"orient": "bottom", "title": "λ (nm)", "values": [1530,1540,1550,1560,1570,1580,1590,1600,1610,1620], "format": "d", "grid": true, "gridColor": "#dedede", "tickSize": -5, "labelPadding": 14, "titlePadding": 9}},
       "y": {"field": "y", "type": "quantitative", "axis": {"orient": "left", "title": "loss (dB)", "values": [0,20,40,60,80], "format": "d", "grid": true, "gridColor": "#dedede", "tickSize": -5, "labelPadding": 13, "titlePadding": 5}}
     }},
    {"data": {"values": [{}]}, "mark": {"type": "text", "text": "A(i)", "fontSize": 24, "fontWeight": "bold", "align": "left", "baseline": "alphabetic", "color": "#000000", "font": "Liberation Sans"},
     "encoding": {"x": {"datum": 1526.6, "type": "quantitative", "axis": null}, "y": {"datum": 76.4, "type": "quantitative", "axis": null}}}
  ]
},
{
  "width": 393, "height": 238,
  "title": {"text": "λFSR(λ)", "offset": -4, "fontWeight": "normal"},
  "resolve": {"axis": {"x": "independent", "y": "independent"}},
  "layer": [
    {"data": {"name": "ra"}, "mark": {"type": "line", "strokeWidth": 2.6, "strokeJoin": "round", "clip": true},
     "encoding": {
       "x": {"field": "x", "type": "quantitative", "scale": {"domain": [0.18, 5], "nice": false, "zero": false},
             "axis": {"orient": "bottom", "title": null, "values": [0.2,0.4,0.6,0.8,1.2,1.4,1.6,1.8,2.2,2.4,2.6,2.8,3.2,3.4,3.6,3.8,4.2,4.4,4.6,4.8], "labels": false, "ticks": false, "domain": false, "grid": true, "gridColor": "#c4c4c4", "gridDash": [1, 3]}},
       "y": {"field": "y", "type": "quantitative", "scale": {"domain": [0, 0.5], "nice": false, "zero": false},
             "axis": {"orient": "left", "title": null, "values": [0.02,0.04,0.06,0.08,0.12,0.14,0.16,0.18,0.22,0.24,0.26,0.28,0.32,0.34,0.36,0.38,0.42,0.44,0.46,0.48], "labels": false, "ticks": false, "domain": false, "grid": true, "gridColor": "#c4c4c4", "gridDash": [1, 3]}},
       "color": {"field": "s", "type": "ordinal", "scale": {"domain": [0,1,2,3,4,5,6,7,8,9,10,11,12,13,14], "range": ["#ff0000","#ed0012","#db0024","#c80037","#b60049","#a4005b","#92006d","#800080","#6d0092","#5b00a4","#4900b6","#3700c8","#2400db","#1200ed","#0000ff"]}, "legend": null}
     }},
    {"data": {"values": [{}]}, "mark": {"type": "text", "text": "A(ii)", "fontSize": 24, "fontWeight": "bold", "align": "right", "baseline": "alphabetic", "color": "#000000", "font": "Liberation Sans"},
     "encoding": {
       "x": {"datum": 4.86, "type": "quantitative", "axis": {"orient": "bottom", "title": "λFSR (nm)", "values": [1,2,3,4,5], "format": "d", "grid": true, "gridColor": "#dedede", "tickSize": -5, "labelPadding": 14, "titlePadding": 9}},
       "y": {"datum": 0.421, "type": "quantitative", "axis": {"orient": "left", "title": "amplitude (a.u)", "values": [0,0.1,0.2,0.3,0.4,0.5], "format": ".1~f", "grid": true, "gridColor": "#dedede", "tickSize": -5, "labelPadding": 13, "titlePadding": 5}}
     }}
  ]
},
{
  "width": 761, "height": 240,
  "title": {"text": "Transmission and Gaussian apodizations, m = 0.5", "offset": -5},
  "resolve": {"axis": {"x": "independent", "y": "independent"}},
  "layer": [
    {"data": {"name": "vb"}, "mark": {"type": "line", "strokeWidth": 1.4, "clip": true},
     "encoding": {
       "x": {"field": "x", "type": "quantitative", "scale": {"domain": [1525, 1625], "nice": false, "zero": false},
             "axis": {"orient": "bottom", "title": null, "values": [1526,1528,1532,1534,1536,1538,1542,1544,1546,1548,1552,1554,1556,1558,1562,1564,1566,1568,1572,1574,1576,1578,1582,1584,1586,1588,1592,1594,1596,1598,1602,1604,1606,1608,1612,1614,1616,1618,1622,1624], "labels": false, "ticks": false, "domain": false, "grid": true, "gridColor": "#c4c4c4", "gridDash": [1, 3]}},
       "y": {"field": "y", "type": "quantitative", "scale": {"domain": [0, 80], "reverse": true, "nice": false, "zero": false},
             "axis": {"orient": "left", "title": null, "values": [5,10,15,25,30,35,45,50,55,65,70,75], "labels": false, "ticks": false, "domain": false, "grid": true, "gridColor": "#c4c4c4", "gridDash": [1, 3]}},
       "color": {"field": "s", "type": "ordinal", "scale": {"domain": [0,1,2,3,4,5,6,7,8,9,10,11,12,13,14], "range": ["#ff0000","#ed0012","#db0024","#c80037","#b60049","#a4005b","#92006d","#800080","#6d0092","#5b00a4","#4900b6","#3700c8","#2400db","#1200ed","#0000ff"]}, "legend": null}
     }},
    {"data": {"name": "kb"}, "mark": {"type": "line", "strokeWidth": 1.5, "color": "#000000", "clip": true},
     "encoding": {
       "x": {"field": "x", "type": "quantitative", "axis": {"orient": "bottom", "title": "λ (nm)", "values": [1530,1540,1550,1560,1570,1580,1590,1600,1610,1620], "format": "d", "grid": true, "gridColor": "#dedede", "tickSize": -5, "labelPadding": 14, "titlePadding": 9}},
       "y": {"field": "y", "type": "quantitative", "axis": {"orient": "left", "title": "loss (dB)", "values": [0,20,40,60,80], "format": "d", "grid": true, "gridColor": "#dedede", "tickSize": -5, "labelPadding": 13, "titlePadding": 5}}
     }},
    {"data": {"values": [{}]}, "mark": {"type": "text", "text": "B(i)", "fontSize": 24, "fontWeight": "bold", "align": "left", "baseline": "alphabetic", "color": "#000000", "font": "Liberation Sans"},
     "encoding": {"x": {"datum": 1526.6, "type": "quantitative", "axis": null}, "y": {"datum": 75.4, "type": "quantitative", "axis": null}}}
  ]
},
{
  "width": 393, "height": 240,
  "title": {"text": "λFSR(λ)", "offset": -4, "fontWeight": "normal"},
  "resolve": {"axis": {"x": "independent", "y": "independent"}},
  "layer": [
    {"data": {"name": "rb"}, "mark": {"type": "line", "strokeWidth": 2.6, "strokeJoin": "round", "clip": true},
     "encoding": {
       "x": {"field": "x", "type": "quantitative", "scale": {"domain": [0.18, 5], "nice": false, "zero": false},
             "axis": {"orient": "bottom", "title": null, "values": [0.2,0.4,0.6,0.8,1.2,1.4,1.6,1.8,2.2,2.4,2.6,2.8,3.2,3.4,3.6,3.8,4.2,4.4,4.6,4.8], "labels": false, "ticks": false, "domain": false, "grid": true, "gridColor": "#c4c4c4", "gridDash": [1, 3]}},
       "y": {"field": "y", "type": "quantitative", "scale": {"domain": [0, 3], "nice": false, "zero": false},
             "axis": {"orient": "left", "title": null, "values": [0.2,0.4,0.6,0.8,1.2,1.4,1.6,1.8,2.2,2.4,2.6,2.8], "labels": false, "ticks": false, "domain": false, "grid": true, "gridColor": "#c4c4c4", "gridDash": [1, 3]}},
       "color": {"field": "s", "type": "ordinal", "scale": {"domain": [0,1,2,3,4,5,6,7,8,9,10,11,12,13,14], "range": ["#ff0000","#ed0012","#db0024","#c80037","#b60049","#a4005b","#92006d","#800080","#6d0092","#5b00a4","#4900b6","#3700c8","#2400db","#1200ed","#0000ff"]}, "legend": null}
     }},
    {"data": {"values": [{}]}, "mark": {"type": "text", "text": "B(ii)", "fontSize": 24, "fontWeight": "bold", "align": "right", "baseline": "alphabetic", "color": "#000000", "font": "Liberation Sans"},
     "encoding": {
       "x": {"datum": 4.86, "type": "quantitative", "axis": {"orient": "bottom", "title": "λFSR (nm)", "values": [1,2,3,4,5], "format": "d", "grid": true, "gridColor": "#dedede", "tickSize": -5, "labelPadding": 14, "titlePadding": 9}},
       "y": {"datum": 2.59, "type": "quantitative", "axis": {"orient": "left", "title": "amplitude (a.u)", "values": [0,1,2,3], "format": "d", "grid": true, "gridColor": "#dedede", "tickSize": -5, "labelPadding": 13, "titlePadding": 5}}
     }}
  ]
}
]
}
